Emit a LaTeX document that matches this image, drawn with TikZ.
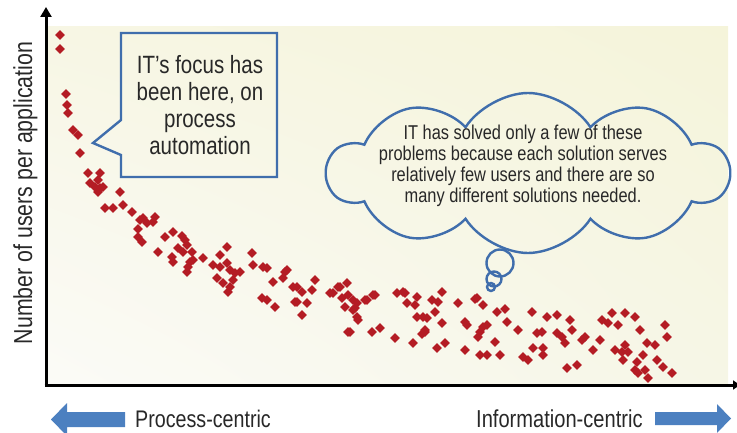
\documentclass[tikz,border=0pt]{standalone}
\usepackage{fontspec}
\newfontfamily\nar{Liberation Sans}[FakeStretch=0.82]
\usetikzlibrary{arrows.meta,shapes.symbols,shadings}
\definecolor{bluel}{RGB}{64,110,172}
\definecolor{arrowc}{RGB}{76,128,192}
\definecolor{ptc}{RGB}{180,28,36}
\definecolor{txt}{RGB}{40,40,40}
\definecolor{bgA}{RGB}{247,246,228}
\definecolor{bgB}{RGB}{245,244,218}
\definecolor{bgC}{RGB}{251,251,247}
\definecolor{bgD}{RGB}{246,246,230}
\tikzset{
  axisline/.style={line width=3pt, black},
  bubble/.style={draw=bluel, line width=2.4pt},
  labeltext/.style={text=txt, inner sep=0pt},
  bigarrow/.style={fill=arrowc},
  dot/.style={fill=ptc}
}
\begin{document}
\begin{tikzpicture}[x=1pt,y=-1pt]
\useasboundingbox (0,0) rectangle (737,433);
% background of plot area
\shade[upper left=bgA, upper right=bgB, lower left=bgC, lower right=bgD] (46,27) rectangle (728,385);
% axes
\coordinate (o) at (46,385);
\coordinate (ytop) at (46,7);
\coordinate (xstart) at (44.5,385);
\coordinate (xend) at (740,385);
\draw[axisline, -{Triangle[width=11pt,length=10pt]}] ([yshift=-1.5pt]o) -- (ytop);
\draw[axisline, -{Triangle[width=9pt,length=7pt]}] (xstart) -- (xend);
% scatter points
\foreach \px/\py in {60/35,60/49,66/94,67/105,68/113,73/130,78/135,80/153,88/173,100/173,90/183,95/187,98/192,103/187,120/192,105/208,113/208,123/205,132/212,143/218,155/217,
98/180,100/188,138/229,138/237,165/237,173/232,182/236,
140/220,153/222,142/242,158/252,172/257,173/262,187/245,192/252,183/252,193/260,188/267,187/272,203/258,213/265,220/255,227/247,220/267,227/263,230/270,217/278,223/283,230/287,228/292,233/280,240/272,252/253,253/265,263/267,267/268,285/272,283/278,273/282,262/298,267/300,275/307,293/287,302/292,312/290,315/280,297/302,307/303,302/315,330/293,338/287,347/283,348/295,353/300,355/308,357/317,348/332,367/300,
147/223,178/248,185/240,190/262,235/273,287/270,
297/287,295/302,333/293,340/287,342/298,357/303,365/300,375/295,353/310,358/320,345/307,350/332,372/332,380/328,397/293,405/293,417/297,407/303,415/305,417/317,427/318,395/338,413/343,425/332,
442/292,432/300,438/302,458/303,475/299,483/305,497/312,505/309,435/312,423/317,442/323,465/322,467/325,483/327,487/325,480/332,478/337,507/322,495/342,425/330,422/334,445/343,437/348,465/350,480/355,487/355,500/355,518/330,532/312,547/317,557/315,537/333,542/332,533/348,543/348,543/355,523/357,528/360,557/333,
570/320,572/330,562/337,565/343,585/337,582/340,600/340,593/350,567/368,577/365,602/320,612/313,608/323,618/325,625/313,635/317,640/330,615/350,622/352,628/352,625/345,623/360,637/362,643/355,635/370,638/373,645/370,648/378,647/343,655/345,657/360,663/367,665/325,667/337,672/373,
373/295,403/292,477/298}
  \fill[dot] (\px,\py) +(0,-4.9) -- +(4.9,0) -- +(0,4.9) -- +(-4.9,0) -- cycle;
% callout box
\draw[bubble, line join=miter] (121,33) -- (277,33) -- (277,177) -- (121,177) -- (121,155) -- (93,143) -- (121,120) -- cycle;
\node[labeltext, align=center, font=\nar\fontsize{25}{27}\selectfont] (focus) at (200,105) {IT’s focus has\\been here, on\\process\\automation};
% cloud
\node[cloud, bubble, cloud puffs=10, cloud puff arc=115, aspect=2.5, minimum width=401pt, minimum height=160pt, inner sep=0pt] (cloud) at (528,173) {};
\node[labeltext, align=center, font=\nar\fontsize{20}{21.2}\selectfont] (cloudtext) at (523,166) {IT has solved only a few of these\\problems because each solution serves\\relatively few users and there are so\\many different solutions needed.};
\node[circle, bubble, minimum size=27pt, inner sep=0pt] (b1) at (500,263) {};
\node[circle, bubble, minimum size=15pt, inner sep=0pt] (b2) at (494,279) {};
\node[circle, bubble, minimum size=8pt, inner sep=0pt] (b3) at (491,287) {};
% axis labels
\node[labeltext, rotate=90, anchor=base, font=\nar\fontsize{26}{28}\selectfont] (ylab) at (32,193) {Number of users per application};
\node[labeltext, anchor=base west, font=\nar\fontsize{24}{26}\selectfont] (proc) at (135,427) {Process-centric};
\node[labeltext, anchor=base west, font=\nar\fontsize{24.5}{26}\selectfont] (info) at (476,427) {Information-centric};
% bottom arrows
\fill[bigarrow] (125,412) -- (67,412) -- (67,403) -- (51,419.5) -- (67,436) -- (67,427) -- (125,427) -- cycle;
\fill[bigarrow] (655,412) -- (717,412) -- (717,404) -- (731,418.5) -- (717,433) -- (717,425) -- (655,425) -- cycle;
\end{tikzpicture}
\end{document}
